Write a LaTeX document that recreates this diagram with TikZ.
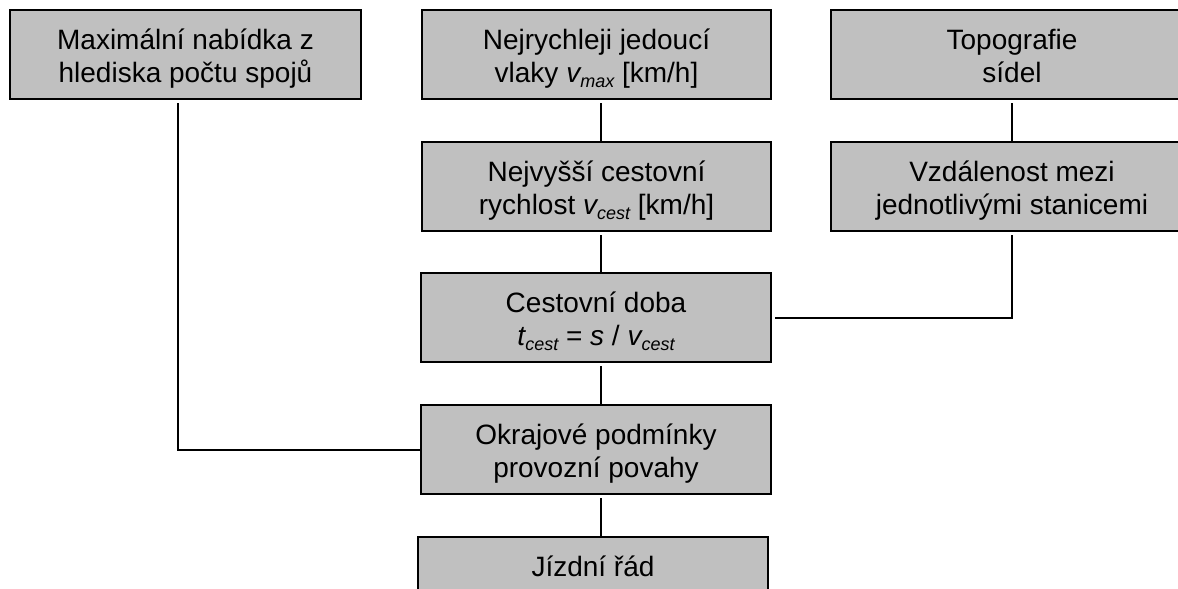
\documentclass[tikz,border=0pt]{standalone}
\usepackage{fontspec}
\setmainfont{Liberation Sans}
\definecolor{boxgray}{RGB}{192,192,192}
% small lowered index (italic subscripts in the labels)
\newcommand{\lowidx}[1]{\raisebox{-5pt}{\fontsize{18}{18}\selectfont #1}}
% struts fixing the first-line height and last-line depth of two-line labels
\newcommand{\topstrut}{\rule{0pt}{28pt}}
\newcommand{\botstrut}{\rule[-6pt]{0pt}{6pt}}
\newcommand{\twolines}[2]{\topstrut #1\\#2\botstrut}
\tikzset{
  flowbox/.style={draw=black, line width=2pt, fill=boxgray, inner sep=0pt,
    minimum height=89pt, align=center, text=black,
    font=\fontsize{28}{33}\selectfont},
  link/.style={draw=black, line width=2pt}
}
\begin{document}
\begin{tikzpicture}[x=1pt,y=-1pt]
  \useasboundingbox (0,0) rectangle (1178,589);
  \clip (0,0) rectangle (1178,589);
  % boxes
  \node[flowbox, minimum width=351pt] (maxn)  at (185.5,54.5) {\twolines{Maximální nabídka z}{hlediska počtu spojů}};
  \node[flowbox, minimum width=349pt] (nejr)  at (596.5,54.5) {\twolines{Nejrychleji jedoucí}{vlaky {\itshape v\lowidx{max}} [km/h]}};
  \node[flowbox, minimum width=362pt] (topo)  at (1012,54.5) {\twolines{Topografie}{sídel}};
  \node[flowbox, minimum width=349pt] (vcest) at (596.5,186.5) {\twolines{Nejvyšší cestovní}{rychlost {\itshape v\lowidx{cest}} [km/h]}};
  \node[flowbox, minimum width=362pt] (vzdal) at (1012,186.5) {\twolines{Vzdálenost mezi}{jednotlivými stanicemi}};
  \node[flowbox, minimum width=350pt] (doba)  at (596,317.5) {\twolines{Cestovní doba}{{\itshape t\lowidx{cest}} = {\itshape s} / {\itshape v\lowidx{cest}}}};
  \node[flowbox, minimum width=350pt] (okraj) at (596,449.5) {\twolines{Okrajové podmínky}{provozní povahy}};
  \node[flowbox, minimum width=350pt] (jizd)  at (593,581.5) {};
  \node[font=\fontsize{28}{33}\selectfont, inner sep=0pt, anchor=base] (jizdt) at (593,576) {Jízdní řád};
  % connector guide lines
  \coordinate (spine) at (601,0);
  \coordinate (lside) at (178,0);
  % connectors
  \draw[link, shorten <=3pt] (nejr.south -| spine) -- (vcest.north -| spine);
  \draw[link, shorten <=3pt] (vcest.south -| spine) -- (doba.north -| spine);
  \draw[link, shorten <=3pt] (doba.south -| spine) -- (okraj.north -| spine);
  \draw[link, shorten <=3pt] (okraj.south -| spine) -- (jizd.north -| spine);
  \draw[link, shorten <=3pt] (topo.south) -- (vzdal.north);
  \draw[link, shorten <=3pt] (maxn.south -| lside) |- (okraj.west);
  \draw[link, shorten <=3pt] (vzdal.south) |- ([xshift=3pt]doba.east);
\end{tikzpicture}
\end{document}
